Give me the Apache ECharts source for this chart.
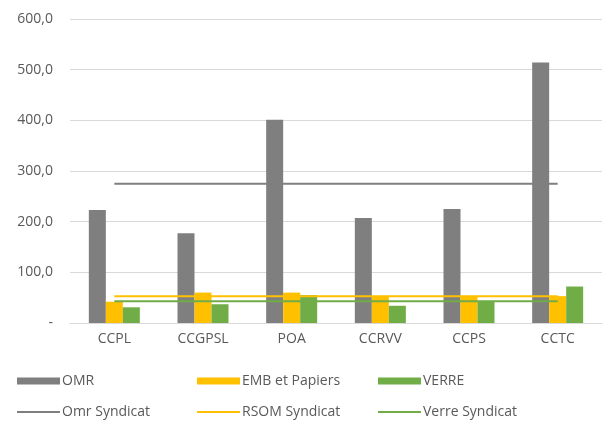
<!DOCTYPE html>
<html>
<head>
<meta charset="utf-8">
<script src="https://cdn.jsdelivr.net/npm/echarts@6/dist/echarts.min.js"></script>
<style>
  html, body { margin: 0; padding: 0; background: #fff; }
  #chart { width: 604px; height: 421px; }
</style>
</head>
<body>
<div id="chart"></div>
<script>
// catégories et valeurs
var categories = ['CCPL', 'CCGPSL', 'POA', 'CCRVV', 'CCPS', 'CCTC'];
var omr = [223, 177, 401, 207, 225, 514];
var embPapiers = [42, 60, 60, 53, 52, 53];
var verre = [31, 37, 55, 34, 42, 72];
var omrSyndicat = [275, 275, 275, 275, 275, 275];
var rsomSyndicat = [53, 53, 53, 53, 53, 53];
var verreSyndicat = [43, 43, 43, 43, 43, 43];

var grey = '#7f7f7f';
var yellow = '#ffc000';
var green = '#70ad47';
var textColor = '#595959';
var font = 'Open Sans';

function legendItem(name, left, top, isLine) {
  return {
    data: [name],
    left: left,
    top: top,
    itemWidth: 43,
    itemHeight: isLine ? 2 : 7,
    itemGap: 4,
    icon: 'rect',
    selectedMode: false,
    textStyle: { color: textColor, fontSize: 14, fontFamily: font, padding: [0, 0, 0, -3] }
  };
}

var chart = echarts.init(document.getElementById('chart'));
chart.setOption({
  animation: false,
  textStyle: { fontFamily: font },
  grid: { left: 70, right: 2, top: 19, bottom: 98 },
  legend: [
    legendItem('OMR', 12, 369, false),
    legendItem('EMB et Papiers', 192, 369, false),
    legendItem('VERRE', 373, 369, false),
    legendItem('Omr Syndicat', 12, 400, true),
    legendItem('RSOM Syndicat', 192, 400, true),
    legendItem('Verre Syndicat', 373, 400, true)
  ],
  xAxis: {
    type: 'category',
    data: categories,
    axisLine: { lineStyle: { color: '#d9d9d9', width: 1 } },
    axisTick: { show: false },
    axisLabel: { color: textColor, fontSize: 14, margin: 9 }
  },
  yAxis: {
    type: 'value',
    min: 0,
    max: 600,
    interval: 100,
    axisLine: { show: false },
    axisTick: { show: false },
    splitLine: { lineStyle: { color: '#d9d9d9', width: 1 } },
    axisLabel: {
      color: textColor,
      fontSize: 14,
      margin: 17,
      formatter: function (v) { return v === 0 ? '-' : v.toFixed(1).replace('.', ','); }
    }
  },
  series: [
    { name: 'OMR', type: 'bar', data: omr, barWidth: 17, barGap: '0%', itemStyle: { color: grey } },
    { name: 'EMB et Papiers', type: 'bar', data: embPapiers, barWidth: 17, barGap: '0%', itemStyle: { color: yellow } },
    { name: 'VERRE', type: 'bar', data: verre, barWidth: 17, barGap: '0%', itemStyle: { color: green } },
    { name: 'Omr Syndicat', type: 'line', data: omrSyndicat, symbol: 'none', itemStyle: { color: grey }, lineStyle: { color: grey, width: 2 } },
    { name: 'RSOM Syndicat', type: 'line', data: rsomSyndicat, symbol: 'none', itemStyle: { color: yellow }, lineStyle: { color: yellow, width: 2 } },
    { name: 'Verre Syndicat', type: 'line', data: verreSyndicat, symbol: 'none', itemStyle: { color: green }, lineStyle: { color: green, width: 2 } }
  ]
});
</script>
</body>
</html>
